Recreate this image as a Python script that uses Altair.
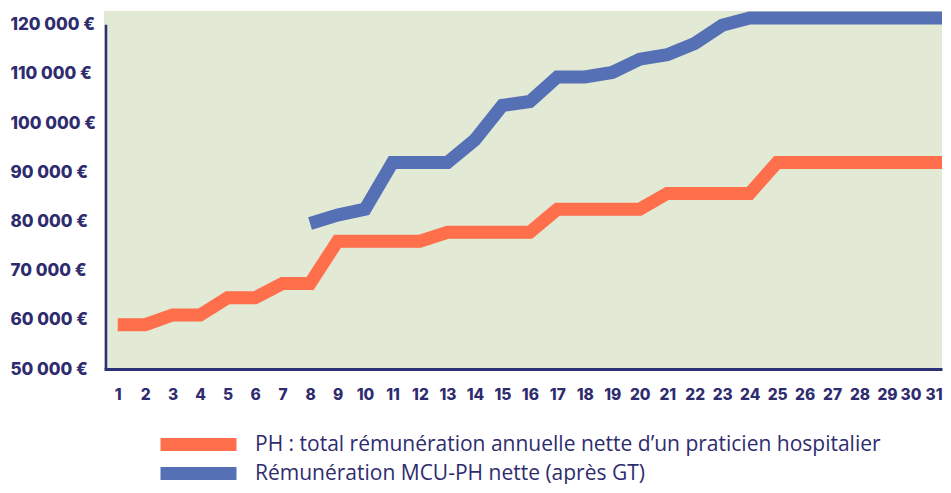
import altair as alt
import pandas as pd

# ---- data ----
years = list(range(1, 32))
ph_values = [59000, 59000, 61000, 61000, 64500, 64500, 67400, 67400,
             76000, 76000, 76000, 76000, 77800, 77800, 77800, 77800,
             82500, 82500, 82500, 82500, 85700, 85700, 85700, 85700,
             92000, 92000, 92000, 92000, 92000, 92000, 92000]
mcu_years = list(range(8, 32))
mcu_values = [79600, 81300, 82500, 92000, 92000, 92000, 96600, 103600,
              104400, 109400, 109400, 110300, 113000, 113900, 116200, 119900,
              121400, 121400, 121400, 121400, 121400, 121400, 121400, 121400]
series_names = [
    "PH : total rémunération annuelle nette d’un praticien hospitalier",
    "Rémunération MCU-PH nette (après GT)",
]
series_colors = ["#FF6F4C", "#5670B6"]
y_ticks = [50000, 60000, 70000, 80000, 90000, 100000, 110000, 120000]
y_axis_span = [50000, 120000]

navy = "#2E2C6E"
axis_navy = "#2B3077"

df = pd.concat([
    pd.DataFrame({"annee": years, "remuneration": ph_values, "serie": series_names[0]}),
    pd.DataFrame({"annee": mcu_years, "remuneration": mcu_values, "serie": series_names[1]}),
])

x_scale = alt.Scale(domain=[0.5, 31], nice=False, zero=False)
y_scale = alt.Scale(domain=[50000, 122800], nice=False, zero=False)

lines = alt.Chart(df).mark_line(
    strokeWidth=13, strokeJoin="miter", strokeCap="butt"
).encode(
    x=alt.X("annee:Q", scale=x_scale, axis=alt.Axis(
        values=years, title=None, grid=False, ticks=False,
        domainColor=axis_navy, domainWidth=3, format="d",
        labelFont="Inter", labelFontWeight=800, labelFontSize=15.5,
        labelColor=navy, labelPadding=18, labelFlush=False, labelOverlap=False,
        labelAlign={"condition": {"test": "datum.value == 31", "value": "right"},
                    "value": "center"},
        labelOffset={"condition": {"test": "datum.value == 30", "value": -4},
                     "value": 0},
    )),
    y=alt.Y("remuneration:Q", scale=y_scale, axis=alt.Axis(
        values=y_ticks, title=None, grid=False, ticks=False, domain=False,
        labelExpr="replace(format(datum.value, ','), ',', ' ') + ' €'",
        labelFont="Inter", labelFontWeight=800, labelFontSize=17,
        labelColor=navy, labelAlign="left", labelPadding=94, labelOverlap=False,
    )),
    color=alt.Color("serie:N", scale=alt.Scale(domain=series_names, range=series_colors),
                    legend=alt.Legend(
                        title=None, orient="none", legendX=50, legendY=427,
                        direction="vertical", padding=0,
                        symbolType="stroke", symbolSize=5776, symbolStrokeWidth=13,
                        symbolOpacity=1, clipHeight=13,
                        labelFont="Open Sans", labelFontSize=21, labelColor=navy,
                        labelOffset=12, labelLimit=0, rowPadding=7,
                    )),
)

yaxis_rule = alt.Chart(pd.DataFrame({"y0": [y_axis_span[0]], "y1": [y_axis_span[1]]})).mark_rule(
    color=axis_navy, strokeWidth=2.5
).encode(
    x=alt.value(2),
    y=alt.Y("y0:Q", scale=y_scale),
    y2="y1:Q",
)

chart = alt.layer(lines, yaxis_rule).properties(
    width=838, height=358,
    autosize=alt.AutoSizeParams(type="none"),
    padding={"left": 96, "top": 3, "right": 1, "bottom": 115},
).configure_view(fill="#E2E9D4", stroke=None)

chart.save("out.html", embed_options={"renderer": "svg", "actions": False})
